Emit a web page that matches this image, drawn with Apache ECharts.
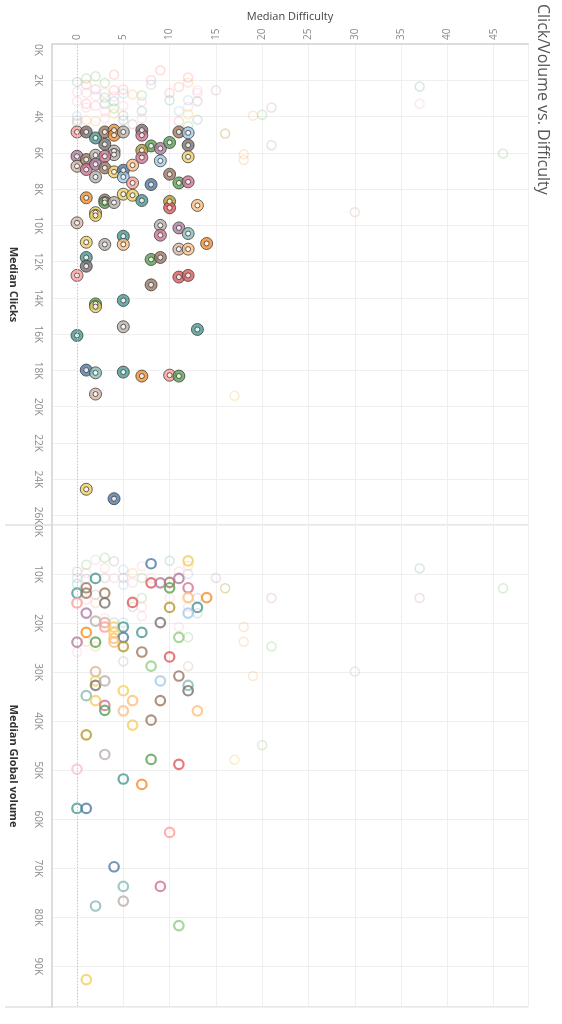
<!DOCTYPE html>
<html>
<head>
<meta charset="utf-8">
<script src="https://cdn.jsdelivr.net/npm/echarts@6/dist/echarts.min.js"></script>
<style>
  html, body { margin: 0; padding: 0; background: #fff; }
  #chart { width: 562px; height: 1024px; }
</style>
</head>
<body>
<div id="chart"></div>
<script>
// tableau 20, one colour per keyword group
var palette = ['#4E79A7', '#A0CBE8', '#F28E2B', '#FFBE7D', '#59A14F', '#8CD17D', '#B6992D', '#F1CE63',
    '#499894', '#86BCB6', '#E15759', '#FF9D9A', '#79706E', '#BAB0AC', '#D37295', '#FABFD2',
    '#B07AA1', '#D4A6C8', '#9D7660', '#D7B5A6'];

// Median Clicks panel, highlighted keywords: [difficulty, clicks (K), group]
var clickBold = [
    [0, 4.85, 11], [1, 4.85, 12], [2, 5.18, 8], [3, 4.85, 18], [4, 4.75, 2], [4, 5.03, 2], [5, 4.85, 13],
    [7, 4.75, 12], [7, 5.03, 14], [11, 4.85, 18], [12, 4.9, 1],
    [3, 5.53, 12], [8, 5.62, 4], [9, 5.76, 16], [10, 5.43, 4], [12, 5.58, 12], [4, 5.9, 13], [4, 6.1, 13],
    [7, 5.86, 6], [7, 6.26, 14], [12, 6.22, 7],
    [0, 6.19, 16], [0, 6.74, 19], [1, 6.37, 18], [1, 6.92, 14], [2, 6.13, 13], [2, 6.63, 16], [3, 6.19, 14],
    [3, 6.83, 18], [4, 7.05, 7], [5, 6.96, 0], [5, 7.33, 1], [6, 6.68, 3], [6, 7.66, 11], [9, 6.44, 1],
    [2, 7.33, 13], [10, 7.18, 18], [8, 7.75, 0], [11, 7.66, 4], [12, 7.6, 14],
    [1, 8.48, 2], [3, 8.6, 18], [3, 8.74, 4], [4, 8.74, 13], [5, 8.28, 7], [6, 8.34, 7], [7, 8.63, 8],
    [10, 8.68, 6], [10, 9.03, 10], [13, 8.9, 3], [2, 9.3, 7], [2, 9.45, 7],
    [0, 9.86, 19], [9, 10.0, 13], [9, 10.54, 14], [11, 10.14, 16], [12, 10.45, 9], [5, 10.6, 8], [5, 11.05, 3],
    [1, 10.93, 7], [3, 11.05, 13], [11, 11.31, 19], [12, 11.31, 3], [14, 11.0, 2],
    [1, 11.77, 8], [1, 12.25, 12], [8, 11.88, 4], [9, 11.77, 18], [0, 12.76, 11], [11, 12.85, 10], [12, 12.76, 10],
    [8, 13.28, 18], [5, 14.14, 8], [2, 14.33, 4], [2, 14.48, 7], [5, 15.59, 13], [13, 15.74, 8], [0, 16.07, 8],
    [1, 17.98, 0], [2, 18.13, 9], [5, 18.09, 8], [7, 18.31, 2], [10, 18.26, 11], [11, 18.31, 4], [2, 19.3, 19],
    [1, 24.55, 7], [4, 25.07, 0]
];

// Median Clicks panel, faded keywords
var clickFaded = [
    [0, 2.09, 9], [1, 1.9, 5], [1, 2.24, 11], [2, 1.78, 5], [3, 2.15, 5], [4, 1.7, 11], [8, 2.0, 11], [8, 2.24, 1],
    [9, 1.45, 11], [12, 1.85, 11], [12, 2.13, 3], [0, 2.64, 15], [0, 3.16, 15], [1, 3.3, 11], [2, 2.88, 15],
    [3, 2.7, 15], [4, 2.55, 11], [5, 2.51, 11], [5, 2.73, 1], [6, 2.79, 3], [7, 2.83, 5], [7, 3.19, 15],
    [10, 2.7, 11], [10, 3.1, 9], [11, 2.37, 11], [13, 2.55, 15], [13, 2.7, 15], [15, 2.55, 17], [12, 3.1, 1],
    [13, 3.16, 13], [11, 3.69, 1], [12, 3.47, 15], [12, 3.87, 7], [13, 4.17, 9], [11, 4.26, 11], [12, 4.53, 5],
    [0, 3.98, 1], [0, 4.2, 13], [0, 4.35, 19], [1, 4.2, 3], [2, 4.26, 3], [3, 3.7, 15], [3, 4.1, 15],
    [4, 3.55, 5], [4, 3.85, 7], [5, 3.95, 13], [5, 4.2, 9], [6, 4.42, 13], [7, 3.7, 9], [7, 4.1, 15],
    [1, 3.5, 15], [2, 3.4, 15], [3, 3.3, 9], [4, 3.16, 9], [5, 3.4, 15], [1, 2.7, 15], [2, 2.5, 17],
    [3, 2.95, 5], [4, 2.9, 15], [19, 3.95, 3], [20, 3.9, 5], [21, 3.5, 17], [16, 4.94, 6], [21, 5.58, 5],
    [18, 6.08, 3], [18, 6.4, 3], [30, 9.27, 19], [37, 2.35, 9], [37, 3.3, 15], [46, 6.04, 5], [17, 19.4, 7]
];

// Median Global volume panel, highlighted keywords: [difficulty, volume (K), group]
var volBold = [
    [8, 7.9, 0], [12, 7.3, 7], [2, 10.9, 8], [10, 11.7, 18], [11, 10.9, 16], [8, 11.8, 10], [9, 11.8, 16],
    [10, 12.8, 4], [12, 12.8, 14], [1, 12.8, 18], [0, 13.9, 8], [1, 13.9, 18], [3, 13.9, 18], [6, 15.8, 10],
    [0, 15.9, 11], [3, 15.9, 12], [12, 14.8, 3], [14, 14.8, 2], [10, 16.8, 6], [13, 16.8, 8], [12, 17.97, 1],
    [1, 17.97, 16], [2, 19.6, 13], [3, 19.9, 19], [9, 19.9, 12], [3, 20.8, 11], [4, 20.8, 7], [5, 20.8, 8],
    [4, 21.9, 7], [4, 23.1, 3], [1, 21.9, 2], [7, 21.9, 8], [5, 22.9, 0], [11, 22.9, 5], [0, 23.9, 16],
    [2, 23.9, 4], [4, 23.9, 3], [5, 24.8, 6], [7, 25.9, 18], [10, 26.9, 10], [8, 28.8, 5], [2, 29.9, 19],
    [11, 30.8, 18], [2, 31.8, 7], [2, 32.7, 12], [3, 31.8, 13], [9, 31.8, 1], [12, 32.7, 9], [12, 33.8, 12],
    [5, 33.8, 7], [1, 34.8, 9], [2, 35.8, 7], [6, 35.8, 3], [9, 35.8, 18], [3, 36.8, 14], [3, 37.8, 4],
    [5, 37.9, 3], [13, 37.9, 3], [8, 39.8, 18], [6, 40.8, 7], [1, 42.8, 6], [3, 46.8, 13], [8, 47.8, 4],
    [11, 48.8, 10], [0, 49.8, 15], [5, 51.8, 8], [7, 52.9, 2], [0, 57.8, 8], [1, 57.8, 0], [10, 62.7, 11],
    [4, 69.7, 0], [5, 73.7, 9], [9, 73.7, 14], [5, 76.7, 13], [2, 77.7, 9], [11, 81.7, 5], [1, 92.7, 7]
];

// Median Global volume panel, faded keywords
var volFaded = [
    [0, 9.5, 19], [0, 10.8, 1], [0, 12.0, 9], [1, 8.1, 5], [1, 9.8, 15], [1, 11.0, 13], [2, 7.1, 15],
    [3, 6.7, 5], [3, 8.8, 15], [3, 10.8, 19], [4, 7.4, 13], [4, 10.8, 15], [5, 9.1, 1], [5, 10.8, 13],
    [5, 12.2, 1], [6, 9.8, 3], [6, 11.8, 15], [7, 8.4, 15], [7, 10.8, 5], [8, 10.8, 15], [10, 7.3, 9],
    [11, 9.5, 15], [12, 10.0, 1], [12, 8.3, 3], [15, 10.8, 17], [16, 12.9, 6], [10, 14.9, 15], [13, 14.9, 13],
    [13, 18.0, 13], [12, 16.7, 15], [7, 14.9, 5], [7, 16.7, 15], [6, 16.7, 13], [3, 19.0, 15], [4, 19.9, 13],
    [5, 19.9, 1], [7, 18.6, 15], [2, 14.2, 13], [1, 15.2, 15], [2, 15.9, 3], [11, 20.8, 15], [12, 22.9, 5],
    [1, 23.8, 3], [2, 24.8, 3], [0, 25.9, 15], [5, 27.8, 13], [12, 28.8, 19], [18, 20.8, 3], [18, 23.8, 3],
    [19, 30.8, 3], [21, 14.9, 17], [21, 24.8, 5], [37, 8.85, 9], [37, 14.9, 17], [46, 12.9, 5],
    [30, 29.9, 19], [20, 44.9, 5], [17, 47.9, 7]
];

var clickTickStep = 2;   // K
var volTickStep = 10;    // K

var chart = echarts.init(document.getElementById('chart'), null, {renderer: 'canvas'});

function toPoints(rows, style) {
    return rows.map(function (r) {
        return {value: [r[0], r[1]], itemStyle: style(palette[r[2]])};
    });
}

var tickFont = {color: '#8a8a8a', fontSize: 10, fontFamily: 'Open Sans'};
var gridLine = {show: true, lineStyle: {color: '#efefef', width: 1}};

function diffAxis(gridIndex, showLabels) {
    return {
        type: 'value', gridIndex: gridIndex, position: 'top',
        min: -2.7, max: 48.7, minInterval: 5, maxInterval: 5, splitNumber: 10,
        name: showLabels ? 'Median Difficulty' : '', nameLocation: 'middle', nameGap: 22,
        nameTextStyle: {color: '#444', fontSize: 11, fontFamily: 'Open Sans'},
        axisLine: {show: showLabels, onZero: false, lineStyle: {color: '#dcdcdc', width: 2}},
        axisTick: {show: false},
        axisLabel: Object.assign({show: showLabels, rotate: -90, margin: 4, showMinLabel: false, showMaxLabel: false}, tickFont),
        splitLine: gridLine
    };
}

function valueAxis(gridIndex, max, step, title) {
    return {
        type: 'value', gridIndex: gridIndex, inverse: true,
        min: 0, max: max, interval: step,
        name: title, nameLocation: 'middle', nameGap: 33, nameRotate: -90,
        nameTextStyle: {color: '#333', fontSize: 11, fontWeight: 'bold', fontFamily: 'Open Sans'},
        axisLine: {show: true, onZero: false, lineStyle: {color: '#dcdcdc', width: 2}},
        axisTick: {show: false},
        axisLabel: Object.assign({rotate: -90, margin: 9, showMaxLabel: false, alignMinLabel: 'left',
            formatter: function (v) { return v + 'K'; }}, tickFont),
        splitLine: gridLine
    };
}

var zeroLine = {
    silent: true, symbol: 'none', label: {show: false},
    lineStyle: {color: '#c4c4c4', type: [1, 2], width: 1},
    data: [{xAxis: 0}]
};

var option = {
    backgroundColor: '#fff',
    animation: false,
    grid: [
        {left: 48, right: 34, top: 44, height: 481},
        {left: 48, right: 34, top: 525, height: 482}
    ],
    xAxis: [diffAxis(0, true), diffAxis(1, false)],
    yAxis: [
        valueAxis(0, 26.52, clickTickStep, 'Median Clicks'),
        valueAxis(1, 98.3, volTickStep, 'Median Global volume')
    ],
    graphic: [
        {type: 'text', x: 543, y: 4, rotation: -Math.PI / 2,
            style: {text: 'Click/Volume vs. Difficulty', fill: '#555', fontSize: 16, fontFamily: 'Open Sans',
                align: 'left', verticalAlign: 'middle'}},
        {type: 'line', shape: {x1: 5, y1: 525, x2: 528, y2: 525}, style: {stroke: '#cfcfcf', lineWidth: 1}},
        {type: 'line', shape: {x1: 5, y1: 1007, x2: 528, y2: 1007}, style: {stroke: '#cfcfcf', lineWidth: 1}}
    ],
    series: [
        {
            type: 'scatter', xAxisIndex: 0, yAxisIndex: 0, symbol: 'circle', symbolSize: 9, z: 2,
            data: toPoints(clickFaded, function (c) {
                return {color: 'rgba(0,0,0,0)', borderColor: c, borderWidth: 1.5, opacity: 0.35};
            }),
            markLine: zeroLine
        },
        {
            type: 'scatter', xAxisIndex: 0, yAxisIndex: 0, symbol: 'circle', symbolSize: 12, z: 3,
            data: toPoints(clickBold, function (c) {
                return {color: c, borderColor: '#3f3f3f', borderWidth: 1};
            })
        },
        {
            type: 'scatter', xAxisIndex: 0, yAxisIndex: 0, symbol: 'circle', symbolSize: 5, z: 4,
            data: toPoints(clickBold, function () {
                return {color: '#fff', borderColor: '#3f3f3f', borderWidth: 1};
            })
        },
        {
            type: 'scatter', xAxisIndex: 1, yAxisIndex: 1, symbol: 'circle', symbolSize: 9, z: 2,
            data: toPoints(volFaded, function (c) {
                return {color: 'rgba(0,0,0,0)', borderColor: c, borderWidth: 1.5, opacity: 0.35};
            }),
            markLine: zeroLine
        },
        {
            type: 'scatter', xAxisIndex: 1, yAxisIndex: 1, symbol: 'circle', symbolSize: 9.5, z: 3,
            data: toPoints(volBold, function (c) {
                return {color: 'rgba(0,0,0,0)', borderColor: c, borderWidth: 2.2};
            })
        }
    ]
};

chart.setOption(option);
</script>
</body>
</html>
